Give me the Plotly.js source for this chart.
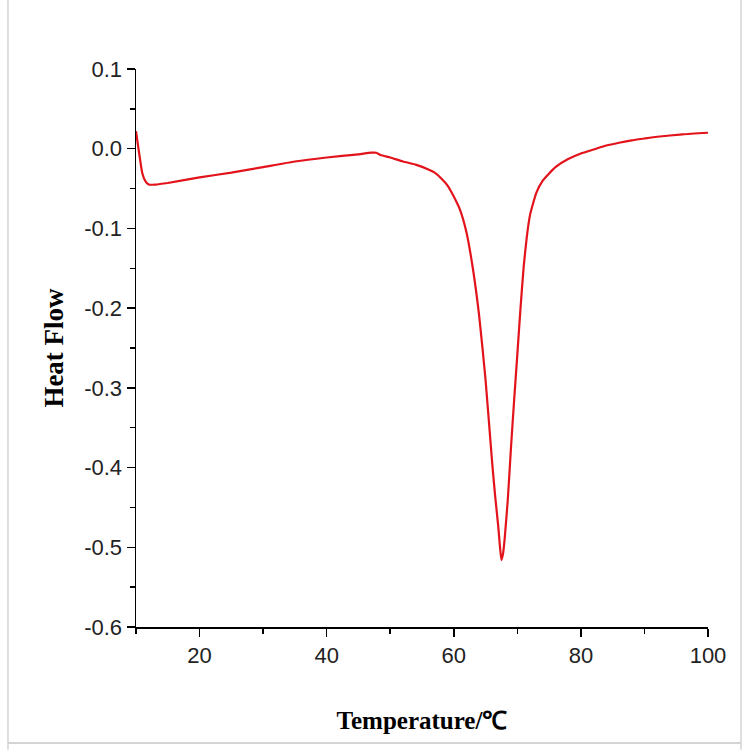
<!DOCTYPE html>
<html>
<head>
<meta charset="utf-8">
<script src="https://cdn.plot.ly/plotly-3.0.1.min.js"></script>
<style>html,body{margin:0;padding:0;background:#fff;}#chart{width:750px;height:750px;}</style>
</head>
<body>
<div id="chart"></div>
<script>
const temperature = [10, 10.5, 11, 11.5, 12, 13, 15, 20, 25, 30, 35, 40, 45, 47, 47.8, 48.5, 50, 52, 54, 56, 57, 58, 59, 60, 61, 62, 63, 64, 65, 66, 66.5, 67, 67.25, 67.5, 67.75, 68, 68.5, 69, 69.5, 70, 70.5, 71, 71.5, 72, 73, 74, 75, 76, 78, 80, 82, 84, 86, 88, 90, 92, 96, 100];
const heatFlow = [0.022, -0.006, -0.031, -0.041, -0.045, -0.045, -0.043, -0.036, -0.030, -0.023, -0.016, -0.011, -0.007, -0.005, -0.005, -0.008, -0.011, -0.016, -0.020, -0.026, -0.030, -0.037, -0.046, -0.060, -0.077, -0.105, -0.150, -0.210, -0.290, -0.390, -0.435, -0.474, -0.498, -0.516, -0.508, -0.490, -0.440, -0.375, -0.315, -0.258, -0.200, -0.148, -0.110, -0.083, -0.055, -0.040, -0.031, -0.023, -0.013, -0.006, -0.001, 0.004, 0.0075, 0.0105, 0.0128, 0.015, 0.018, 0.020];
const xTickVals = [20, 40, 60, 80, 100];
const yTickVals = [0.1, 0.0, -0.1, -0.2, -0.3, -0.4, -0.5, -0.6];
const yTickText = ['0.1', '0.0', '-0.1', '-0.2', '-0.3', '-0.4', '-0.5', '-0.6'];

const trace = {
  x: temperature, y: heatFlow, type: 'scatter', mode: 'lines',
  line: {color: '#e3131b', width: 2.2, shape: 'spline', smoothing: 0.5},
  hoverinfo: 'skip'
};

const gray = '#d4d4d4';
const layout = {
  width: 750, height: 750,
  margin: {l: 136, r: 42, t: 69, b: 123},
  paper_bgcolor: '#ffffff', plot_bgcolor: '#ffffff',
  showlegend: false,
  xaxis: {
    range: [10, 100], tickvals: xTickVals, ticktext: xTickVals.map(String),
    showgrid: false, zeroline: false,
    showline: true, linecolor: '#000', linewidth: 1.5,
    ticks: 'outside', ticklen: 8, tickwidth: 1.5, tickcolor: '#000',
    minor: {dtick: 10, tick0: 0, ticks: 'outside', ticklen: 5, tickwidth: 1.5, tickcolor: '#000', showgrid: false},
    tickfont: {family: 'Liberation Sans, Arial, sans-serif', size: 22, color: '#222'},
    title: {text: 'Temperature/℃', standoff: 44, font: {family: 'Liberation Serif, Times New Roman, serif', size: 25, color: '#000', weight: 'bold'}}
  },
  yaxis: {
    range: [-0.6, 0.1], tickvals: yTickVals, ticktext: yTickText,
    showgrid: false, zeroline: false,
    showline: true, linecolor: '#000', linewidth: 1.5,
    ticks: 'outside', ticklen: 8, tickwidth: 1.5, tickcolor: '#000',
    minor: {dtick: 0.05, tick0: 0, ticks: 'outside', ticklen: 5, tickwidth: 1.5, tickcolor: '#000', showgrid: false},
    tickfont: {family: 'Liberation Sans, Arial, sans-serif', size: 22, color: '#222'},
    title: {text: 'Heat Flow', standoff: 12, font: {family: 'Liberation Serif, Times New Roman, serif', size: 27, color: '#000', weight: 'bold'}}
  },
  shapes: [
    {type: 'line', xref: 'paper', yref: 'paper', x0: -0.2238, x1: -0.2238, y0: -0.22, y1: 1.13, line: {color: gray, width: 1.5}},
    {type: 'line', xref: 'paper', yref: 'paper', x0: 1.0577, x1: 1.0577, y0: -0.22, y1: 1.13, line: {color: gray, width: 1.5}},
    {type: 'line', xref: 'paper', yref: 'paper', x0: -0.2238, x1: 1.0577, y0: -0.2079, y1: -0.2079, line: {color: gray, width: 2}}
  ]
};

Plotly.newPlot('chart', [trace], layout, {displayModeBar: false, staticPlot: true});
</script>
</body>
</html>
